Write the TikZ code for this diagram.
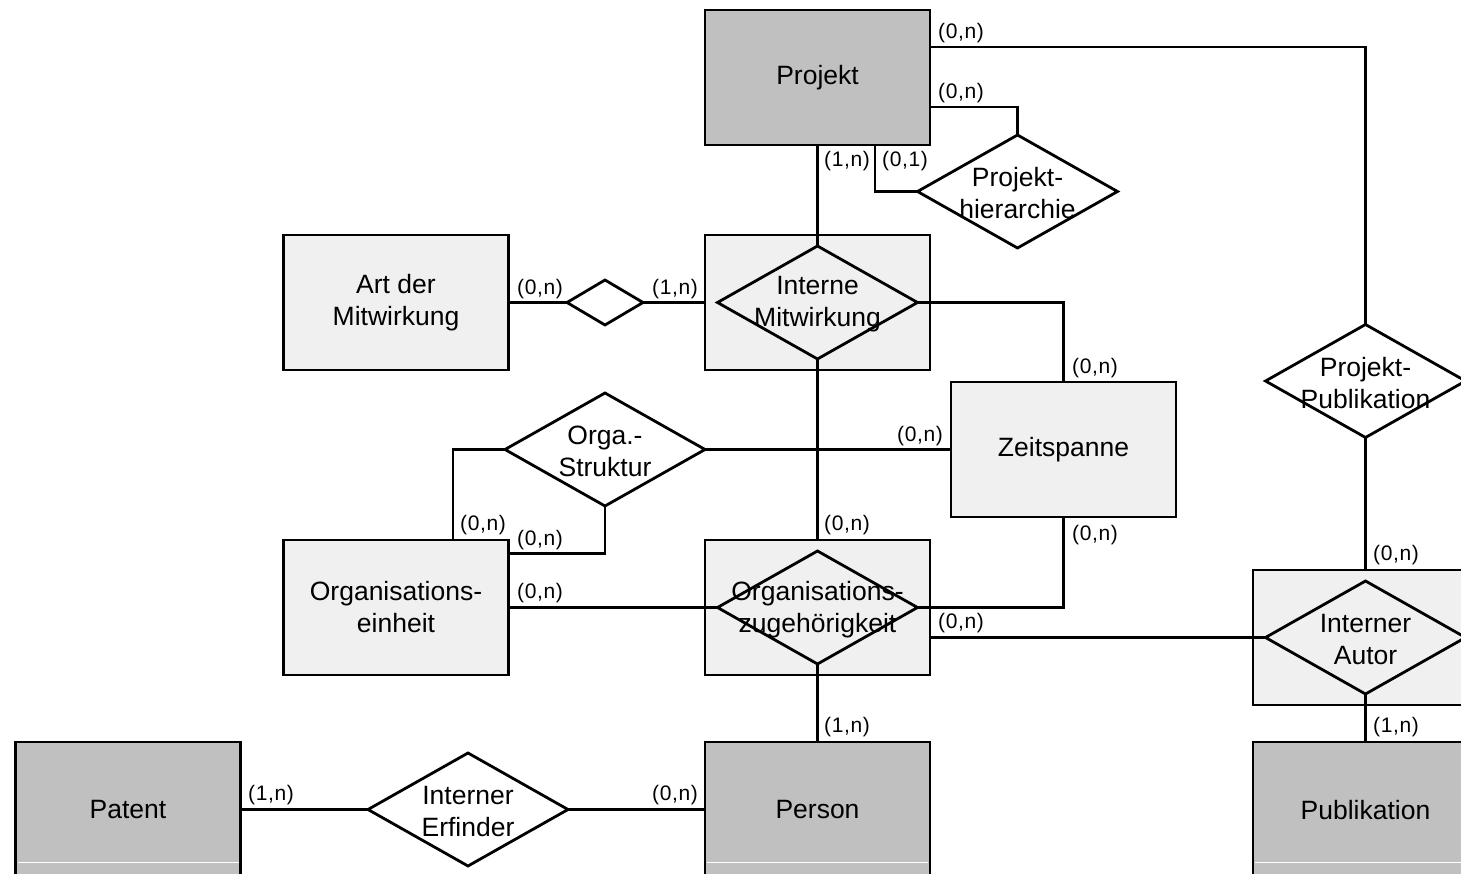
\documentclass[tikz,border=0pt]{standalone}
\usepackage{fontspec}
\setmainfont{Liberation Sans}
\usetikzlibrary{shapes.geometric}
\definecolor{entdark}{HTML}{C0C0C0}
\definecolor{entlight}{HTML}{F0F0F0}
\begin{document}
\begin{tikzpicture}[x=1pt,y=-1pt,
  line width=2.8pt, line join=miter,
  ent/.style={draw, rectangle, minimum width=225pt, minimum height=135pt,
    inner sep=0pt, outer sep=0pt, align=center, font=\fontsize{26.5}{32}\selectfont},
  strong/.style={ent, fill=entdark},
  weak/.style={ent, fill=entlight},
  rel/.style={draw, diamond, minimum width=200pt, minimum height=113pt,
    inner sep=0pt, outer sep=0pt},
  relfree/.style={rel, fill=white},
  reltext/.style={align=center, inner sep=0pt, yshift=-2pt, font=\fontsize{26.5}{32}\selectfont},
  card/.style={inner sep=0pt, font=\fontsize{21}{22}\selectfont\addfontfeatures{LetterSpace=3}},
  divider/.style={draw=white, line width=1pt}
]
\useasboundingbox (0,0) rectangle (1461,874);
\clip (0,0) rectangle (1461,874);

% entities
\node[strong] (projekt) at (817.5,77.5) {Projekt};
\node[weak]   (art)     at (396,302.5)  {Art der\\Mitwirkung};
\node[weak]   (imbox)   at (817.5,302.5) {};
\node[weak]   (zs)      at (1063.5,449.5) {Zeitspanne};
\node[weak]   (oe)      at (396,607.5)  {Organisations-\\einheit};
\node[weak]   (ozbox)   at (817.5,607.5) {};
\node[weak]   (iabox)   at (1365.5,637.5) {};
\node[strong] (patent)  at (128,809.5)  {};
\node[strong] (person)  at (817.5,809.5) {};
\node[strong] (pub)     at (1365.5,809.5) {};

% lower compartment dividers
\foreach \e in {patent,person,pub}
  \draw[divider] ([xshift=2pt,yshift=-52.5pt]\e.west) -- ([xshift=-2pt,yshift=-52.5pt]\e.east);

% relationships
\node[rel]     (im) at (817.5,302.5) {};
\node[rel]     (oz) at (817.5,607.5) {};
\node[rel]     (ia) at (1365.5,637.5) {};
\node[relfree] (ph) at (1017.5,191.5) {};
\node[relfree, minimum width=76pt, minimum height=45pt] (sd) at (605,302.5) {};
\node[relfree] (os) at (605,449.5) {};
\node[relfree] (pp) at (1365.5,381) {};
\node[relfree] (ie) at (468,809.5) {};

% connectors
\draw ([yshift=30.5pt]projekt.east) -| (pp.north);
\draw ([yshift=-29.5pt]projekt.east) -| (ph.north);
\draw ([xshift=57.5pt]projekt.south) |- (ph.west);
\draw (projekt.south) -- (im.north);
\draw (art.east) -- (sd.west);
\draw (sd.east) -- (imbox.west);
\draw (im.east) -| (zs.north);
\draw (im.south) -- (ozbox.north);
\draw (os.east) -- (zs.west);
\draw (os.west) -| ([xshift=57pt]oe.north);
\draw (os.south) |- ([yshift=54pt]oe.east);
\draw (oe.east) -- (oz.west);
\draw (oz.east) -| (zs.south);
\draw ([yshift=-30pt]ozbox.east) -- (ia.west);
\draw (oz.south) -- (person.north);
\draw (pp.south) -- (iabox.north);
\draw (ia.south) -- (pub.north);
\draw (patent.east) -- (ie.west);
\draw (ie.east) -- (person.west);

% names
\node[reltext] (patent-t) at (patent) [yshift=1.5pt] {Patent};
\node[reltext] (person-t) at (person) [yshift=1.5pt] {Person};
\node[reltext] (pub-t)    at (pub)    [yshift=1.5pt] {Publikation};
\node[reltext] (im-t) at (im) {Interne\\Mitwirkung};
\node[reltext] (oz-t) at (oz) {Organisations-\\zugehörigkeit};
\node[reltext] (ia-t) at (ia) {Interner\\Autor};
\node[reltext] (ph-t) at (ph) {Projekt-\\hierarchie};
\node[reltext] (os-t) at (os) {Orga.-\\Struktur};
\node[reltext] (pp-t) at (pp) {Projekt-\\Publikation};
\node[reltext] (ie-t) at (ie) {Interner\\Erfinder};

% cardinalities
\node[card] (c1)  at (961,33)   {(0,n)};
\node[card] (c2)  at (961,93)   {(0,n)};
\node[card] (c3)  at (847,161)  {(1,n)};
\node[card] (c4)  at (905,161)  {(0,1)};
\node[card] (c5)  at (540,289)  {(0,n)};
\node[card] (c6)  at (675,289)  {(1,n)};
\node[card] (c7)  at (1095,368) {(0,n)};
\node[card] (c8)  at (920,436)  {(0,n)};
\node[card] (c9)  at (483,525)  {(0,n)};
\node[card] (c10) at (540,540)  {(0,n)};
\node[card] (c11) at (847,525)  {(0,n)};
\node[card] (c12) at (540,593)  {(0,n)};
\node[card] (c13) at (1095,535) {(0,n)};
\node[card] (c14) at (961,623)  {(0,n)};
\node[card] (c15) at (847,727)  {(1,n)};
\node[card] (c16) at (1396,555) {(0,n)};
\node[card] (c17) at (1396,727) {(1,n)};
\node[card] (c18) at (271,795)  {(1,n)};
\node[card] (c19) at (675,795)  {(0,n)};
\end{tikzpicture}
\end{document}
